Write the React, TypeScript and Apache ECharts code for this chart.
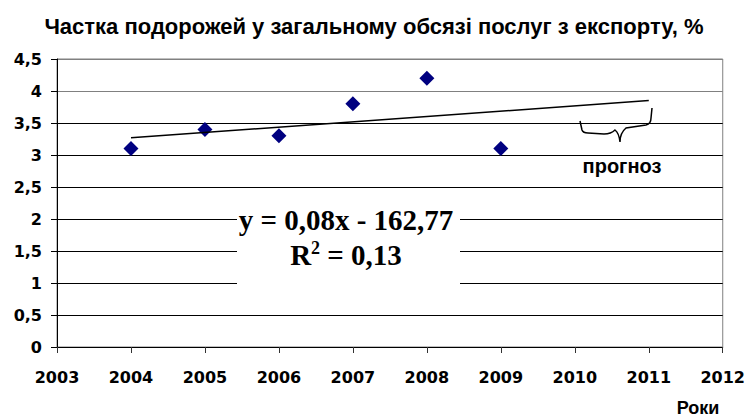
import React, { useEffect, useRef } from "react";
import * as echarts from "echarts";

const TITLE = "Частка подорожей у загальному обсязі послуг з експорту, %";
const X_NAME = "Роки";
const FORECAST_LABEL = "прогноз";
const EQUATION = "y = 0,08x - 162,77";
const R2_VALUE = "0,13";

const years = [2004, 2005, 2006, 2007, 2008, 2009];
const shares = [3.1, 3.4, 3.3, 3.8, 4.2, 3.1];
const trendYears = [2004, 2011];
const trendValues = [3.27, 3.85];

const X_MIN = 2003;
const X_MAX = 2012;
const Y_MIN = 0;
const Y_MAX = 4.5;
const Y_STEP = 0.5;

const BRACE_PATH =
  "M580,121 L582,130 Q583,133 588,133 L604,134 Q611,134 615,130 Q619,133 620,142 Q620,133 626,128 L646,125 Q651,124 651,118 L652,108";

echarts.graphic.registerShape("brace", echarts.graphic.extendPath(BRACE_PATH, {}));

const tickFont = {
  fontFamily: "DejaVu Sans",
  fontWeight: "bold" as const,
  fontSize: 16,
  color: "#000",
};

export default function App() {
  const ref = useRef<HTMLDivElement>(null);

  useEffect(() => {
    document.body.style.margin = "0";
    if (!ref.current) return;
    const chart = echarts.init(ref.current, undefined, { renderer: "svg" });
    const gridColors = [
      "#000", "#000", "#000", "#000", "#000", "#000", "#000", "#000", "#808080", "#808080",
    ];
    chart.setOption({
      animation: false,
      backgroundColor: "#fff",
      title: {
        text: TITLE,
        left: "center",
        top: 10,
        textStyle: {
          fontFamily: "Liberation Sans",
          fontWeight: "bold",
          fontSize: 22,
          color: "#000",
        },
      },
      grid: {
        left: 57,
        right: 24,
        top: 59,
        bottom: 70,
        show: true,
        borderColor: "#808080",
        borderWidth: 1,
        backgroundColor: "transparent",
      },
      xAxis: {
        type: "value",
        min: X_MIN,
        max: X_MAX,
        interval: 1,
        axisLine: { show: true, onZero: false, lineStyle: { color: "#000", width: 1 } },
        axisTick: { show: true, inside: false, length: 6, lineStyle: { color: "#333" } },
        splitLine: { show: false },
        axisLabel: { ...tickFont, margin: 22, formatter: (v: number) => String(v) },
      },
      yAxis: {
        type: "value",
        min: Y_MIN,
        max: Y_MAX,
        interval: Y_STEP,
        axisLine: { show: true, lineStyle: { color: "#000", width: 1 } },
        axisTick: { show: true, inside: false, length: 6, lineStyle: { color: "#000" } },
        splitLine: { show: true, lineStyle: { color: gridColors, width: 1 } },
        axisLabel: {
          ...tickFont,
          margin: 15,
          formatter: (v: number) => String(v).replace(".", ","),
        },
      },
      series: [
        {
          type: "scatter",
          symbol: "diamond",
          symbolSize: 15,
          itemStyle: { color: "#000080", opacity: 1 },
          data: years.map((y, i) => [y, shares[i]]),
          z: 3,
        },
        {
          type: "line",
          showSymbol: false,
          symbol: "none",
          lineStyle: { color: "#000", width: 1.5 },
          data: trendYears.map((y, i) => [y, trendValues[i]]),
          z: 4,
        },
      ],
      graphic: [
        {
          type: "rect",
          z: 100,
          shape: { x: 237, y: 196, width: 223, height: 94 },
          style: { fill: "#fff" },
        },
        {
          type: "text",
          z: 101,
          x: 346,
          y: 220,
          style: {
            text: EQUATION,
            fontFamily: "Liberation Serif",
            fontWeight: "bold",
            fontSize: 29,
            fill: "#000",
            align: "center",
            verticalAlign: "middle",
          },
        },
        {
          type: "text",
          z: 101,
          x: 346,
          y: 255,
          style: {
            text: "{r|R}{s|2}{r| = " + R2_VALUE + "}",
            align: "center",
            verticalAlign: "middle",
            rich: {
              r: {
                fontFamily: "Liberation Serif",
                fontWeight: "bold",
                fontSize: 29,
                fill: "#000",
                lineHeight: 32,
              },
              s: {
                fontFamily: "Liberation Serif",
                fontWeight: "bold",
                fontSize: 18,
                fill: "#000",
                verticalAlign: "top",
                lineHeight: 32,
                padding: [0, 0, 12, 0],
              },
            },
          },
        },
        {
          type: "brace",
          z: 101,
          x: 0,
          y: 0,
          style: { stroke: "#000", fill: "none", lineWidth: 1.5 },
        },
        {
          type: "text",
          z: 101,
          x: 622,
          y: 166,
          style: {
            text: FORECAST_LABEL,
            fontFamily: "Liberation Sans",
            fontWeight: "bold",
            fontSize: 20,
            fill: "#000",
            align: "center",
            verticalAlign: "middle",
          },
        },
        {
          type: "text",
          z: 101,
          x: 698,
          y: 408,
          style: {
            text: X_NAME,
            fontFamily: "Liberation Sans",
            fontWeight: "bold",
            fontSize: 18,
            fill: "#000",
            align: "center",
            verticalAlign: "middle",
          },
        },
      ],
    });
    return () => chart.dispose();
  }, []);

  return <div ref={ref} style={{ width: 748, height: 417 }} />;
}
